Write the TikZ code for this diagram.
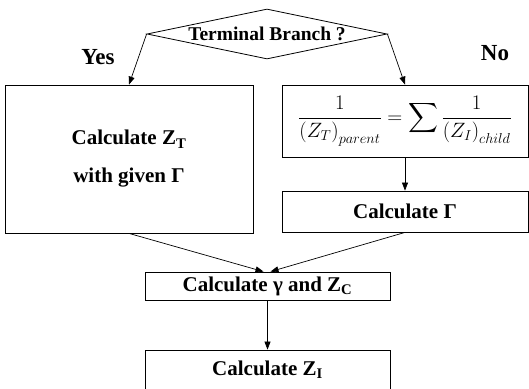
\documentclass[tikz,border=0pt]{standalone}
\usepackage{amsmath}
\usepackage{fontspec}
\setmainfont{Liberation Serif}
\usetikzlibrary{arrows.meta,shapes.geometric,positioning}

\begin{document}
\begin{tikzpicture}[x=1pt, y=-1pt,
    box/.style={draw, line width=0.8pt, inner sep=0pt, align=center, font=\fontsize{21}{38}\selectfont\bfseries},
    arr/.style={-{Triangle[length=8pt, width=6pt]}, line width=0.7pt},
    lbl/.style={font=\fontsize{23}{26}\selectfont\bfseries}
]
\useasboundingbox (0,0) rectangle (529,388);
\node[box, shape=diamond, aspect=4.8, minimum width=240pt, minimum height=50pt, font=\fontsize{19.5}{22}\selectfont\bfseries] (term) at (267,34) {Terminal Branch ?};
\node[lbl] (yes) at (98,57) {Yes};
\node[lbl] (no) at (495,53) {No};
\node[box, minimum width=248pt, minimum height=148pt] (zt) at (129,159) {Calculate Z\textsubscript{T}\\with given Γ};
\node[box, minimum width=246pt, minimum height=72pt, font=\fontsize{21}{24}\selectfont] (sumz) at (405,121)
    {$\displaystyle \frac{1}{\left(Z_T\right)_{parent}} = \sum \frac{1}{\left(Z_I\right)_{child}}$};
\node[box, minimum width=246pt, minimum height=41pt] (gam) at (405,211.5) {Calculate Γ};
\node[box, minimum width=245pt, minimum height=28pt] (zc) at (267.5,286) {Calculate γ and Z\textsubscript{C}};
\node[box, minimum width=245pt, minimum height=40pt] (zi) at (267.5,370) {Calculate Z\textsubscript{I}};

\draw[arr] (term.west) -- (zt.north);
\draw[arr] (term.east) -- (sumz.north);
\draw[arr] (sumz) -- (gam);
\draw[arr] (zt.south) -- ([xshift=-4pt]zc.north);
\draw[arr] (gam.south) -- ([xshift=3pt]zc.north);
\draw[arr] (zc) -- (zi);
\end{tikzpicture}
\end{document}
